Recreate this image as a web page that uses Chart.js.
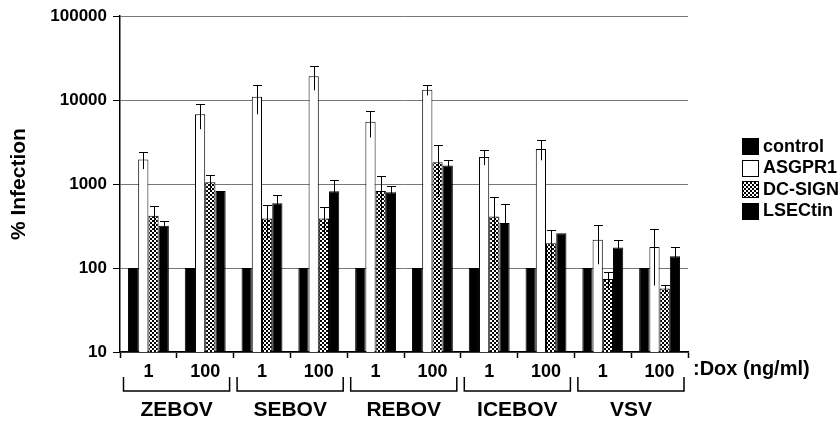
<!DOCTYPE html>
<html lang="en">
<head>
<meta charset="utf-8"/>
<title>% Infection</title>
<script src="https://cdn.jsdelivr.net/npm/chart.js"></script>
<style>
  html, body { margin: 0; padding: 0; background: #fff; }
  #kutu { width: 838px; height: 423px; }
</style>
</head>
<body>
<div id="kutu"><canvas id="grafik"></canvas></div>
<script>
  // values
  const viruses = ['ZEBOV', 'SEBOV', 'REBOV', 'ICEBOV', 'VSV'];
  const doses = ['1', '100', '1', '100', '1', '100', '1', '100', '1', '100'];
  const yTicks = [10, 100, 1000, 10000, 100000];

  const control = [100, 100, 100, 100, 100, 100, 100, 100, 100, 100];
  const asgpr1 = [1970, 6810, 11000, 19300, 5520, 13300, 2100, 2620, 217, 178];
  const asgpr1Err = [460, 2300, 4200, 6200, 1930, 1900, 420, 700, 106, 116];
  const dcsign = [420, 1050, 390, 390, 830, 1820, 410, 198, 74, 57];
  const dcsignErr = [135, 235, 175, 140, 430, 1120, 300, 87, 16, 6];
  const lsectin = [320, 830, 590, 820, 800, 1660, 345, 260, 176, 138];
  const lsectinErr = [43, 0, 160, 310, 160, 280, 240, 0, 41, 40];

  const seriesNames = ['control', 'ASGPR1', 'DC-SIGN', 'LSECtin'];

  Chart.defaults.font.family = "'Liberation Sans', Arial, sans-serif";
  Chart.defaults.font.weight = 'bold';
  Chart.defaults.color = '#000';

  // checkered fill for DC-SIGN
  function damaDesen() {
    const c = document.createElement('canvas');
    c.width = 4; c.height = 4;
    const g = c.getContext('2d');
    g.fillStyle = '#fff';
    g.fillRect(0, 0, 4, 4);
    g.fillStyle = '#000';
    g.fillRect(0, 0, 2, 2);
    g.fillRect(2, 2, 2, 2);
    return g.createPattern(c, 'repeat');
  }
  const desen = damaDesen();

  const fills = ['#000', '#fff', desen, '#000'];

  // error bars: line from v-err to v+err, cap on top only
  const hataCizgisi = {
    id: 'hataCizgisi',
    afterDatasetsDraw(chart) {
      const { ctx, scales: { y } } = chart;
      ctx.save();
      ctx.strokeStyle = '#000';
      ctx.lineWidth = 1;
      chart.data.datasets.forEach((ds, i) => {
        if (!ds.errors) return;
        chart.getDatasetMeta(i).data.forEach((bar, j) => {
          const e = ds.errors[j];
          if (!e) return;
          const v = ds.data[j];
          const x = Math.round(bar.x) + 0.5;
          const top = Math.round(y.getPixelForValue(v + e)) + 0.5;
          const bot = y.getPixelForValue(Math.max(v - e, 10));
          ctx.beginPath();
          ctx.moveTo(x, bot);
          ctx.lineTo(x, top);
          ctx.moveTo(x - 4.5, top);
          ctx.lineTo(x + 4.5, top);
          ctx.stroke();
        });
      });
      ctx.restore();
    }
  };

  // brackets, virus names, dose label and legend
  const ekler = {
    id: 'ekler',
    afterDraw(chart) {
      const { ctx, chartArea, scales: { x } } = chart;
      const cw = (x.right - x.left) / doses.length;
      const b = chartArea.bottom;
      ctx.save();
      ctx.strokeStyle = '#000';
      ctx.fillStyle = '#000';
      ctx.lineWidth = 1.5;
      viruses.forEach((name, g) => {
        const l = x.left + g * 2 * cw + 3.5;
        const r = x.left + (g + 1) * 2 * cw - 4;
        ctx.beginPath();
        ctx.moveTo(l, b + 25);
        ctx.lineTo(l, b + 39);
        ctx.lineTo(r, b + 39);
        ctx.lineTo(r, b + 25);
        ctx.stroke();
        ctx.font = "bold 21px 'Liberation Sans', Arial, sans-serif";
        ctx.textAlign = 'center';
        ctx.textBaseline = 'middle';
        ctx.fillText(name, (l + r) / 2, b + 58);
      });

      ctx.font = "bold 20px 'Liberation Sans', Arial, sans-serif";
      ctx.textAlign = 'left';
      ctx.textBaseline = 'middle';
      ctx.fillText(':Dox (ng/ml)', x.right + 5, b + 17);

      // legend
      const lx = chartArea.right + 54;
      const ly = [146, 167.5, 189, 210.5];
      ctx.font = "bold 18px 'Liberation Sans', Arial, sans-serif";
      ctx.lineWidth = 1;
      seriesNames.forEach((n, i) => {
        const top = Math.round(ly[i] - 8) + 0.5;
        ctx.fillStyle = fills[i];
        ctx.fillRect(lx + 0.5, top, 16, 16);
        ctx.strokeRect(lx + 0.5, top, 16, 16);
        ctx.fillStyle = '#000';
        ctx.fillText(n, lx + 21, ly[i] + 1);
      });
      ctx.restore();
    }
  };

  new Chart(document.getElementById('grafik'), {
    type: 'bar',
    data: {
      labels: doses,
      datasets: [
        { label: seriesNames[0], data: control, backgroundColor: fills[0], borderColor: '#000', borderWidth: 1 },
        { label: seriesNames[1], data: asgpr1, errors: asgpr1Err, backgroundColor: fills[1], borderColor: '#000', borderWidth: 1 },
        { label: seriesNames[2], data: dcsign, errors: dcsignErr, backgroundColor: fills[2], borderColor: '#000', borderWidth: 1 },
        { label: seriesNames[3], data: lsectin, errors: lsectinErr, backgroundColor: fills[3], borderColor: '#000', borderWidth: 1 }
      ]
    },
    options: {
      responsive: true,
      maintainAspectRatio: false,
      animation: false,
      categoryPercentage: 0.72,
      barPercentage: 1,
      layout: { padding: { left: 0, top: 15, right: 150, bottom: 0 } },
      plugins: {
        legend: { display: false },
        tooltip: { enabled: false }
      },
      scales: {
        x: {
          offset: true,
          grid: { display: true, offset: true, drawOnChartArea: false, drawTicks: true, tickLength: 6, tickColor: '#000', tickWidth: 1.5 },
          border: { display: true, color: '#000', width: 1.5 },
          ticks: { color: '#000', font: { size: 18, weight: 'bold' }, padding: 3, maxRotation: 0, autoSkip: false },
          afterFit(s) { s.height = 71; }
        },
        y: {
          type: 'logarithmic',
          min: 10,
          max: 100000,
          afterBuildTicks(s) { s.ticks = yTicks.map(v => ({ value: v })); },
          ticks: { color: '#000', font: { size: 17, weight: 'bold' }, padding: 6, callback: v => String(v) },
          grid: { color: '#777', tickColor: '#000', tickLength: 7, lineWidth: 1 },
          border: { display: true, color: '#000', width: 1.5 },
          title: { display: true, text: '% Infection', color: '#000', font: { size: 21, weight: 'bold' }, padding: { top: 7, bottom: 0 } },
          afterFit(s) { s.width = 120; }
        }
      }
    },
    plugins: [hataCizgisi, ekler]
  });
</script>
</body>
</html>
